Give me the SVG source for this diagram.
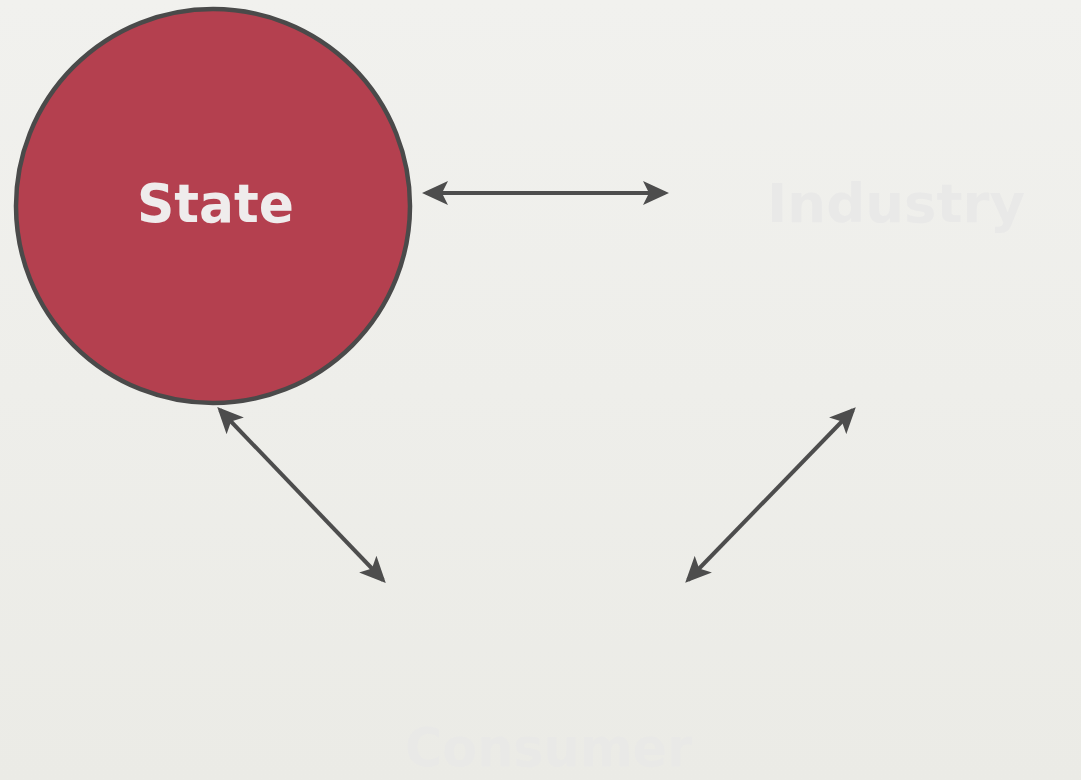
<svg xmlns="http://www.w3.org/2000/svg" width="1081" height="780" viewBox="0 0 1081 780">
<defs>
<linearGradient id="bg" x1="0" y1="0" x2="0" y2="1">
<stop offset="0" stop-color="#f1f1ee"/>
<stop offset="1" stop-color="#ebebe6"/>
</linearGradient>
<marker id="ah" viewBox="0 0 26 26" refX="22" refY="13" markerWidth="26" markerHeight="26" markerUnits="userSpaceOnUse" orient="auto-start-reverse">
<path d="M0,1 L26,13 L0,25 L6,13 Z" fill="#4d4d4d"/>
</marker>
</defs>
<style>
.lbl{font-family:"DejaVu Sans","Liberation Sans",sans-serif;font-weight:bold;font-size:54px}
.conn{stroke:#4d4d4d;stroke-width:4;fill:none;marker-start:url(#ah);marker-end:url(#ah)}
</style>
<rect width="1081" height="780" fill="url(#bg)"/>
<g id="state">
<circle cx="213" cy="206" r="197" fill="#b4404f" stroke="#4a4a4a" stroke-width="4.5"/>
<text class="lbl" x="137" y="222" fill="#efecec" textLength="157" lengthAdjust="spacingAndGlyphs">State</text>
</g>
<g id="industry">
<text class="lbl" x="767" y="222" fill="#e9e9e8" textLength="258" lengthAdjust="spacingAndGlyphs">Industry</text>
</g>
<g id="consumer">
<text class="lbl" x="405" y="766" fill="#e9e9e7" textLength="287" lengthAdjust="spacingAndGlyphs">Consumer</text>
</g>
<g id="connectors">
<line class="conn" x1="426" y1="193" x2="665" y2="193"/>
<line class="conn" x1="220" y1="410" x2="383" y2="580"/>
<line class="conn" x1="853" y1="410" x2="688" y2="580"/>
</g>
</svg>
